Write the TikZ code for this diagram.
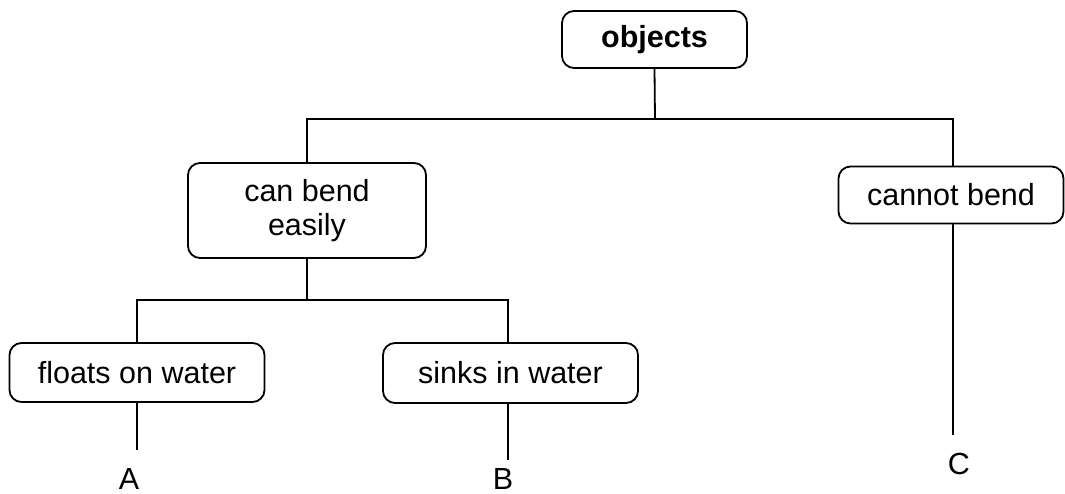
\documentclass[tikz,border=0pt]{standalone}
\usepackage{fontspec}
\setmainfont{Liberation Sans}
\begin{document}
\begin{tikzpicture}[x=1pt,y=-1pt,
  box/.style={draw=black, line width=1.8pt, rounded corners=12pt, inner sep=0pt, align=center,
    font=\fontsize{30.5}{33.5}\selectfont},
  conn/.style={draw=black, line width=1.8pt},
  lbl/.style={inner sep=0pt, font=\fontsize{30.5}{33.5}\selectfont}]
\useasboundingbox (0,0) rectangle (1065,494);
\node[box, minimum width=185pt, minimum height=57pt, font=\fontsize{30.5}{33.5}\selectfont\bfseries] (objects) at (654.5,39.5) {objects};
\node[box, minimum width=238pt, minimum height=95pt] (canbend) at (307,210.5) {can bend\\easily};
\node[box, minimum width=225pt, minimum height=57pt] (cannot) at (951,195) {cannot bend};
\node[box, minimum width=255pt, minimum height=59pt] (floats) at (137,372.5) {floats on water};
\node[box, minimum width=255pt, minimum height=60pt] (sinks) at (510.5,373) {sinks in water};
\coordinate (j1) at (655,119);
\coordinate (j2) at (307,300);
\coordinate (ea) at (137,450);
\coordinate (eb) at (508,460);
\coordinate (ec) at (953,435);
\node[lbl] (A) at (129,479) {A};
\node[lbl] (B) at (503,479) {B};
\node[lbl] (C) at (959,464) {C};
\draw[conn] (objects.south) -- (j1);
\draw[conn] (canbend.north) |- (j1);
\draw[conn] (cannot.north -| ec) |- (j1);
\draw[conn] (canbend.south) -- (j2);
\draw[conn] (floats.north) |- (j2);
\draw[conn] (sinks.north -| eb) |- (j2);
\draw[conn] (floats.south) -- (ea);
\draw[conn] (sinks.south -| eb) -- (eb);
\draw[conn] (cannot.south -| ec) -- (ec);
\end{tikzpicture}
\end{document}
